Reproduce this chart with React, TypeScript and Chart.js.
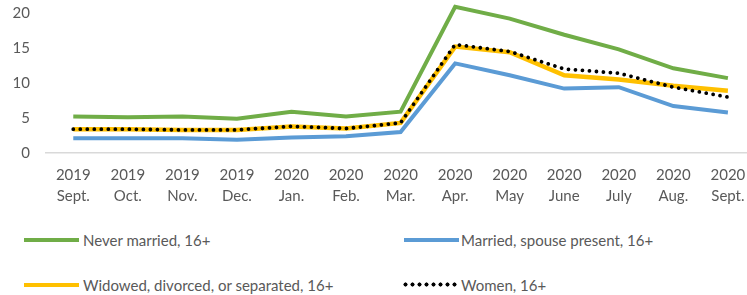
import React, { useEffect, useRef } from "react";
import { Chart, registerables } from "chart.js";

Chart.register(...registerables);

const years = ["2019", "2019", "2019", "2019", "2020", "2020", "2020", "2020", "2020", "2020", "2020", "2020", "2020"];
const months = ["Sept.", "Oct.", "Nov.", "Dec.", "Jan.", "Feb.", "Mar.", "Apr.", "May", "June", "July", "Aug.", "Sept."];

const neverMarried = [5.2, 5.1, 5.2, 4.9, 5.9, 5.2, 5.9, 20.9, 19.2, 16.9, 14.8, 12.1, 10.7];
const marriedSpouse = [2.1, 2.1, 2.1, 1.9, 2.2, 2.4, 3.0, 12.8, 11.1, 9.2, 9.4, 6.7, 5.8];
const widowed = [3.4, 3.4, 3.3, 3.3, 3.8, 3.5, 4.3, 15.2, 14.4, 11.1, 10.5, 9.6, 8.9];
const women = [3.4, 3.4, 3.3, 3.3, 3.8, 3.5, 4.3, 15.5, 14.5, 12.0, 11.4, 9.4, 8.0];

const yTicks = [0, 5, 10, 15, 20];

const GREEN = "#70AD47";
const BLUE = "#5B9BD5";
const YELLOW = "#FFC000";
const TEXT = "#595959";
const FONT = "Lato, 'Open Sans', sans-serif";

const toPts = (arr: number[]) => arr.map((v, i) => ({ x: i, y: v }));

export default function App() {
  const ref = useRef<HTMLCanvasElement>(null);

  useEffect(() => {
    if (!ref.current) return;
    const chart = new Chart(ref.current, {
      type: "line",
      data: {
        datasets: [
          { label: "Never married, 16+", data: toPts(neverMarried), borderColor: GREEN, borderWidth: 4, order: 2 },
          { label: "Married, spouse present, 16+", data: toPts(marriedSpouse), borderColor: BLUE, borderWidth: 4, order: 3 },
          { label: "Widowed, divorced, or separated, 16+", data: toPts(widowed), borderColor: YELLOW, borderWidth: 4.5, order: 4 },
          {
            label: "Women, 16+",
            data: toPts(women),
            borderColor: "#000000",
            borderWidth: 3.8,
            borderDash: [0.01, 7],
            borderCapStyle: "round",
            order: 1,
          },
        ],
      },
      options: {
        animation: false,
        responsive: false,
        maintainAspectRatio: false,
        layout: { padding: { top: 0, right: 0, left: 0, bottom: 0 } },
        elements: { point: { radius: 0 }, line: { tension: 0 } },
        plugins: { legend: { display: false }, tooltip: { enabled: false } },
        scales: {
          x: {
            type: "linear",
            min: -0.5,
            max: 12.35,
            afterBuildTicks: (scale: any) => {
              scale.ticks = months.map((_, i) => ({ value: i }));
            },
            afterFit: (scale: any) => {
              scale.height = 62;
              scale.paddingLeft = 0;
              scale.paddingRight = 0;
            },
            grid: { display: false, drawTicks: false },
            border: { display: true, color: "#D9D9D9", width: 1.5 },
            ticks: {
              autoSkip: false,
              maxRotation: 0,
              padding: 12,
              color: TEXT,
              font: { family: FONT, size: 15, lineHeight: 1.4 },
              callback: (v: any) => {
                const i = Math.round(Number(v));
                return [years[i], months[i]];
              },
            },
          },
          y: {
            min: 0,
            max: 21.86,
            afterBuildTicks: (scale: any) => {
              scale.ticks = yTicks.map((v) => ({ value: v }));
            },
            afterFit: (scale: any) => {
              scale.width = 46;
              scale.paddingTop = 0;
              scale.paddingBottom = 0;
            },
            grid: { display: false, drawTicks: false },
            border: { display: false },
            ticks: {
              padding: 16,
              color: TEXT,
              font: { family: FONT, size: 15 },
            },
          },
        },
      },
    } as any);
    return () => chart.destroy();
  }, []);

  const textStyle: React.CSSProperties = {
    position: "absolute",
    fontFamily: FONT,
    fontSize: 15,
    color: TEXT,
    lineHeight: "18px",
    whiteSpace: "nowrap",
  };
  const lineStyle = (color: string, left: number, top: number): React.CSSProperties => ({
    position: "absolute",
    left,
    top: top - 2,
    width: 55,
    height: 4,
    background: color,
  });

  return (
    <div style={{ position: "absolute", left: 0, top: 0, width: 747, height: 295, background: "#fff", overflow: "hidden" }}>
      <canvas ref={ref} width={747} height={215} style={{ display: "block", width: 747, height: 215 }} />
      <div style={lineStyle(GREEN, 24, 240)} />
      <div style={{ ...textStyle, left: 83, top: 231 }}>Never married, 16+</div>
      <div style={lineStyle(BLUE, 404, 240)} />
      <div style={{ ...textStyle, left: 461, top: 231 }}>Married, spouse present, 16+</div>
      <div style={lineStyle(YELLOW, 24, 285)} />
      <div style={{ ...textStyle, left: 83, top: 276 }}>Widowed, divorced, or separated, 16+</div>
      <div
        style={{
          position: "absolute",
          left: 402,
          top: 281,
          width: 56,
          height: 7,
          backgroundImage: "radial-gradient(circle, #000 1.8px, transparent 2.3px)",
          backgroundSize: "7px 7px",
        }}
      />
      <div style={{ ...textStyle, left: 461, top: 276 }}>Women, 16+</div>
    </div>
  );
}
